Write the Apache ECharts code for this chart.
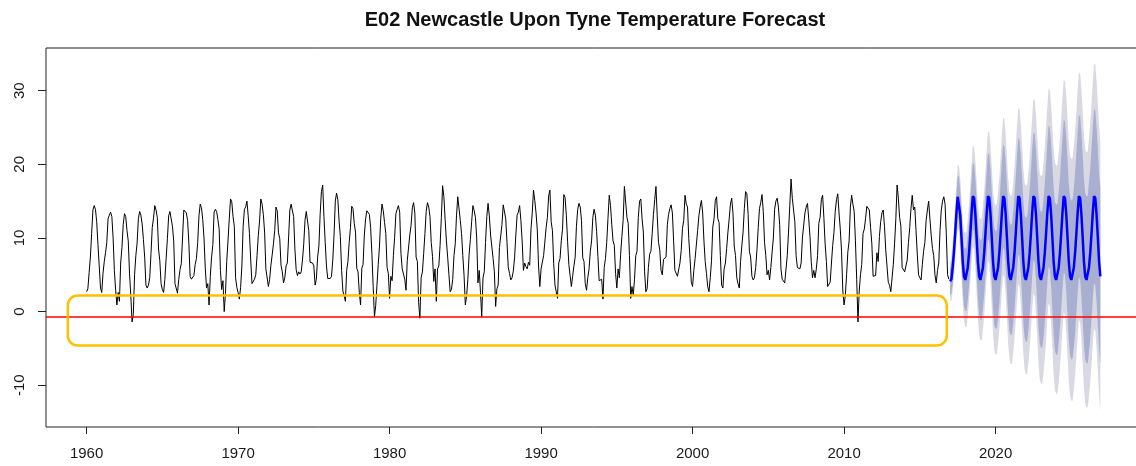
<!DOCTYPE html>
<html>
<head>
<meta charset="utf-8">
<title>E02 Newcastle Upon Tyne Temperature Forecast</title>
<script src="https://cdn.jsdelivr.net/npm/echarts@6.0.0/dist/echarts.min.js"></script>
<style>
  html, body { margin: 0; padding: 0; background: #fff; overflow: hidden; }
  /* a little wider than the window: the plot box runs off the right edge, as in the source */
  #chart { width: 1142px; height: 466px; }
</style>
</head>
<body>
<div id="chart"></div>
<script>
// monthly mean temperature, one row per year (Jan..Dec)
const firstYear = 1960
const tempByYear = [
  [2.7, 3.1, 5.3, 7.4, 10.6, 13.8, 14.4, 13.9, 12.2, 9.1, 6.2, 3.2],   // 1960
  [2.6, 5.2, 6.8, 8.0, 9.4, 12.6, 13.1, 13.5, 12.9, 10.0, 5.6, 2.9],
  [0.9, 2.6, 1.4, 6.6, 8.7, 11.8, 13.3, 12.9, 11.0, 9.6, 5.2, 2.2],
  [-1.4, -0.4, 5.0, 7.6, 9.3, 12.6, 13.6, 13.1, 11.9, 9.8, 7.4, 3.6],
  [3.2, 3.6, 4.6, 7.9, 11.4, 12.7, 14.4, 13.8, 12.8, 8.5, 6.9, 3.8],
  [3.0, 2.6, 4.4, 7.2, 9.9, 13.0, 13.6, 13.5, 11.6, 9.6, 3.8, 3.9],
  [2.5, 4.4, 5.7, 6.5, 10.0, 13.8, 13.9, 13.4, 12.4, 9.3, 4.8, 4.4],
  [4.4, 4.9, 6.4, 7.2, 9.4, 13.0, 14.6, 14.1, 12.5, 10.0, 5.9, 3.2],
  [3.8, 0.9, 4.8, 7.4, 9.1, 13.5, 13.9, 13.6, 12.5, 11.2, 5.6, 3.0],
  [4.2, 0.0, 2.5, 6.8, 9.6, 12.6, 15.3, 14.9, 12.9, 11.6, 4.6, 3.3],
  [2.6, 1.7, 3.3, 6.2, 11.6, 13.9, 14.2, 15.0, 13.0, 10.6, 7.0, 3.8],  // 1970
  [3.9, 4.4, 5.0, 7.6, 10.3, 12.3, 15.3, 14.6, 13.2, 10.8, 5.8, 6.0],
  [3.4, 4.4, 6.3, 7.7, 9.2, 11.0, 14.2, 13.7, 10.7, 9.9, 6.3, 5.4],
  [3.9, 4.6, 6.2, 6.6, 10.0, 13.8, 14.6, 14.6, 12.9, 8.5, 5.7, 4.9],
  [5.4, 5.1, 5.4, 7.0, 9.2, 12.4, 13.6, 13.6, 11.0, 6.7, 6.6, 6.6],
  [6.2, 3.6, 4.4, 7.4, 8.9, 13.2, 16.3, 17.2, 12.9, 9.4, 6.2, 4.5],
  [4.6, 4.5, 4.8, 7.0, 10.4, 15.0, 16.1, 15.2, 12.3, 10.2, 5.6, 2.8],
  [2.2, 1.4, 5.6, 6.8, 9.4, 11.4, 14.3, 14.0, 12.0, 10.8, 5.9, 5.4],
  [2.6, 0.9, 5.9, 6.4, 10.4, 12.6, 13.7, 13.6, 13.2, 11.4, 7.8, 3.4],
  [-0.7, 0.8, 3.6, 6.4, 8.9, 12.7, 14.6, 13.7, 12.1, 10.6, 6.0, 5.2],
  [1.8, 4.8, 4.2, 7.6, 10.1, 13.3, 13.9, 14.4, 13.5, 7.9, 5.8, 5.1],  // 1980
  [4.4, 2.9, 6.9, 7.1, 10.4, 11.7, 14.1, 14.8, 13.4, 7.4, 6.8, 1.2],
  [-0.9, 4.6, 5.4, 7.9, 10.6, 13.6, 14.8, 14.2, 12.9, 9.4, 7.5, 4.1],
  [5.8, 1.4, 5.8, 6.2, 9.0, 12.8, 17.1, 15.6, 12.5, 9.6, 7.4, 5.0],
  [2.7, 3.0, 4.4, 7.6, 9.2, 13.0, 15.6, 15.4, 12.4, 10.6, 7.6, 4.9],
  [0.9, 2.1, 4.4, 7.8, 9.8, 12.2, 14.4, 13.7, 12.8, 10.0, 3.9, 5.6],
  [2.6, -0.7, 4.6, 5.4, 9.4, 12.9, 14.7, 13.0, 10.4, 10.5, 7.2, 5.4],
  [0.7, 3.1, 3.6, 8.7, 8.9, 11.8, 14.5, 14.4, 12.6, 9.4, 6.0, 5.2],
  [4.3, 4.6, 5.5, 7.3, 10.4, 13.1, 13.5, 14.4, 12.4, 9.6, 5.6, 6.6],
  [6.1, 5.8, 6.7, 6.3, 11.2, 13.4, 16.5, 15.1, 13.4, 11.1, 6.2, 3.4],
  [5.8, 6.0, 7.6, 7.6, 11.4, 12.8, 15.7, 16.5, 12.2, 11.0, 6.5, 3.6],  // 1990
  [3.4, 1.8, 6.6, 7.2, 9.6, 11.2, 15.9, 15.5, 13.1, 9.5, 6.4, 4.9],
  [3.4, 4.8, 6.2, 7.4, 11.6, 13.9, 14.7, 14.2, 12.4, 7.3, 6.8, 3.8],
  [2.9, 4.6, 5.8, 8.2, 9.6, 12.8, 13.9, 13.1, 10.9, 7.5, 4.2, 4.4],
  [4.4, 1.7, 6.0, 7.2, 9.4, 12.7, 15.8, 14.4, 11.8, 9.6, 9.0, 5.2],
  [3.2, 5.8, 4.6, 7.8, 10.2, 12.4, 17.0, 16.8, 12.8, 12.0, 7.6, 1.8],
  [3.4, 2.2, 4.4, 7.6, 8.2, 12.8, 15.0, 15.3, 12.6, 10.8, 5.4, 2.7],
  [3.1, 6.0, 7.8, 8.2, 10.6, 13.2, 15.2, 17.0, 13.0, 9.4, 8.4, 5.6],
  [5.0, 7.1, 7.2, 7.4, 11.8, 13.2, 14.0, 14.5, 13.4, 9.6, 5.6, 5.4],
  [4.8, 4.9, 6.6, 8.3, 11.3, 12.4, 15.8, 14.6, 14.2, 9.9, 7.2, 4.0],
  [3.4, 5.6, 7.2, 7.1, 11.0, 13.0, 14.2, 15.1, 13.4, 9.6, 6.8, 5.2],  // 2000
  [3.4, 2.7, 4.6, 6.9, 11.5, 12.6, 15.1, 15.6, 12.6, 12.1, 7.6, 3.6],
  [3.2, 5.8, 6.6, 8.6, 10.8, 12.6, 14.6, 15.4, 13.4, 8.9, 7.6, 4.6],
  [3.8, 3.2, 6.8, 8.9, 10.8, 14.0, 16.3, 16.0, 13.2, 8.2, 7.4, 4.8],
  [4.3, 4.6, 6.0, 8.4, 11.4, 14.0, 14.8, 15.9, 13.6, 9.4, 7.6, 5.0],
  [5.6, 4.3, 6.0, 8.1, 10.0, 13.9, 15.0, 15.4, 14.2, 11.8, 5.8, 4.4],
  [4.4, 3.9, 4.0, 7.6, 10.8, 14.4, 18.0, 15.4, 15.6, 12.2, 7.6, 6.0],
  [6.2, 5.8, 6.6, 10.0, 10.2, 13.4, 14.2, 14.7, 12.6, 10.2, 6.8, 4.6],
  [5.6, 4.6, 5.8, 7.6, 12.0, 12.8, 15.2, 15.8, 12.8, 9.2, 6.8, 3.4],
  [3.5, 4.0, 6.6, 9.0, 10.8, 13.6, 15.2, 16.0, 13.4, 11.2, 8.2, 2.8],
  [0.9, 2.2, 5.0, 8.1, 9.6, 14.2, 15.8, 14.6, 13.6, 9.6, 4.4, -1.4],  // 2010
  [2.8, 5.0, 6.4, 10.6, 11.2, 12.6, 14.3, 14.2, 13.8, 11.4, 9.2, 4.8],
  [4.8, 4.9, 8.0, 6.8, 10.2, 12.2, 13.4, 13.8, 11.6, 8.4, 6.2, 4.0],
  [3.6, 2.7, 2.9, 6.4, 9.2, 12.6, 17.2, 15.4, 12.8, 11.6, 6.0, 5.8],
  [5.4, 5.6, 7.0, 9.4, 11.4, 14.0, 15.8, 13.8, 14.2, 11.0, 7.8, 5.0],
  [4.6, 4.3, 6.4, 8.2, 9.4, 12.4, 13.8, 15.0, 12.6, 10.4, 8.6, 7.6],
  [5.0, 3.9, 5.6, 6.6, 11.0, 13.8, 15.0, 15.6, 14.6, 10.4, 5.0, 4.4]   // 2016
]

// forecast, Jan 2017 .. Dec 2026: point forecast and half-widths of the 80% / 95% bands
const fcStartYear = 2017
const fcMean = [
  [4.1, 4.4, 6.0, 8.0, 10.6, 13.4, 15.6, 15.4, 13.2, 10.1, 6.8, 4.8],
  [4.3, 4.4, 6.0, 8.0, 10.6, 13.4, 15.7, 15.4, 13.2, 10.1, 6.8, 4.8],
  [4.3, 4.4, 6.0, 8.0, 10.6, 13.4, 15.7, 15.4, 13.2, 10.1, 6.8, 4.8],
  [4.3, 4.4, 6.0, 8.0, 10.6, 13.4, 15.7, 15.4, 13.2, 10.1, 6.8, 4.8],
  [4.3, 4.4, 6.0, 8.0, 10.6, 13.4, 15.7, 15.4, 13.2, 10.1, 6.8, 4.8],
  [4.3, 4.4, 6.0, 8.0, 10.6, 13.4, 15.7, 15.4, 13.2, 10.1, 6.8, 4.8],
  [4.3, 4.4, 6.0, 8.0, 10.6, 13.4, 15.7, 15.4, 13.2, 10.1, 6.8, 4.8],
  [4.3, 4.4, 6.0, 8.0, 10.6, 13.4, 15.7, 15.4, 13.2, 10.1, 6.8, 4.8],
  [4.3, 4.4, 6.0, 8.0, 10.6, 13.4, 15.7, 15.4, 13.2, 10.1, 6.8, 4.8],
  [4.3, 4.4, 6.0, 8.0, 10.6, 13.4, 15.7, 15.4, 13.2, 10.1, 6.8, 4.8]
]
const fcHalf95 = [
  [2.6, 3.0, 3.3, 3.6, 3.8, 4.0, 4.2, 4.5, 4.9, 5.3, 5.7, 6.0],
  [6.4, 6.5, 6.6, 6.6, 6.7, 6.7, 6.8, 7.0, 7.3, 7.6, 7.8, 8.0],
  [8.2, 8.3, 8.4, 8.5, 8.6, 8.7, 8.8, 9.0, 9.3, 9.5, 9.8, 10.0],
  [10.1, 10.2, 10.3, 10.4, 10.5, 10.6, 10.7, 10.8, 10.9, 11.0, 11.2, 11.3],
  [11.4, 11.5, 11.6, 11.7, 11.8, 11.9, 12.0, 12.1, 12.3, 12.5, 12.6, 12.7],
  [12.8, 12.9, 13.0, 13.0, 13.1, 13.1, 13.2, 13.3, 13.5, 13.7, 13.9, 14.0],
  [14.1, 14.2, 14.3, 14.4, 14.5, 14.5, 14.6, 14.7, 14.9, 15.1, 15.3, 15.4],
  [15.5, 15.5, 15.6, 15.6, 15.7, 15.7, 15.8, 15.9, 16.0, 16.1, 16.2, 16.3],
  [16.4, 16.5, 16.5, 16.6, 16.6, 16.7, 16.8, 16.9, 17.0, 17.1, 17.2, 17.3],
  [17.3, 17.4, 17.5, 17.6, 17.7, 17.8, 18.0, 18.1, 18.2, 18.2, 18.3, 18.3]
]
const fcHalf80 = [
  [1.8, 2.0, 2.2, 2.4, 2.5, 2.7, 2.8, 3.0, 3.2, 3.5, 3.8, 4.0],
  [4.2, 4.3, 4.4, 4.4, 4.4, 4.4, 4.5, 4.6, 4.8, 5.0, 5.1, 5.3],
  [5.4, 5.5, 5.5, 5.6, 5.7, 5.7, 5.8, 5.9, 6.1, 6.2, 6.4, 6.6],
  [6.6, 6.7, 6.8, 6.8, 6.9, 7.0, 7.0, 7.1, 7.1, 7.2, 7.3, 7.4],
  [7.5, 7.5, 7.6, 7.7, 7.7, 7.8, 7.9, 7.9, 8.1, 8.2, 8.3, 8.3],
  [8.4, 8.5, 8.5, 8.5, 8.6, 8.6, 8.7, 8.7, 8.8, 9.0, 9.1, 9.2],
  [9.2, 9.3, 9.4, 9.4, 9.5, 9.5, 9.6, 9.6, 9.8, 9.9, 10.0, 10.1],
  [10.2, 10.2, 10.2, 10.2, 10.3, 10.3, 10.4, 10.4, 10.5, 10.6, 10.6, 10.7],
  [10.8, 10.8, 10.8, 10.9, 10.9, 10.9, 11.0, 11.1, 11.1, 11.2, 11.3, 11.3],
  [11.3, 11.4, 11.5, 11.5, 11.6, 11.7, 11.8, 11.9, 11.9, 11.9, 12.0, 12.0]
]

const xTicks = [1960, 1970, 1980, 1990, 2000, 2010, 2020]
const yTicks = [-10, 0, 10, 20, 30]
const refLine = -0.7                 // red horizontal line
const boxYears = [1958.76, 2016.78]  // orange highlight box, data units
const boxTemps = [2.2, -4.6]

const font = "'Liberation Sans', Arial, sans-serif"

// rows -> [time, value] pairs, time = year + month/12 like an R ts
const toPoints = (rows, startYear) => {
  const out = []
  rows.forEach((row, y) => row.forEach((v, m) => out.push([startYear + y + m / 12, v])))
  return out
}
const hist = toPoints(tempByYear, firstYear)
const fc = toPoints(fcMean, fcStartYear)
const h95 = fcHalf95.flat()
const h80 = fcHalf80.flat()

const band = (half, color) => ({
  type: 'custom',
  silent: true,
  z: 1,
  data: [fc[0]],
  renderItem: (params, api) => {
    const pts = []
    for (let i = 0; i < fc.length; i++) pts.push(api.coord([fc[i][0], fc[i][1] + half[i]]))
    for (let i = fc.length - 1; i >= 0; i--) pts.push(api.coord([fc[i][0], fc[i][1] - half[i]]))
    return { type: 'polygon', shape: { points: pts }, style: { fill: color } }
  }
})

const chart = echarts.init(document.getElementById('chart'))

chart.setOption({
  animation: false,
  title: {
    text: 'E02 Newcastle Upon Tyne Temperature Forecast',
    left: 590,
    textAlign: 'center',
    top: 5,
    textStyle: { fontFamily: font, fontSize: 20, fontWeight: 'bold', color: '#111' }
  },
  grid: {
    left: 46, top: 48, right: 1, bottom: 39,
    show: true, borderColor: '#222', borderWidth: 1, backgroundColor: 'transparent'
  },
  xAxis: {
    type: 'value',
    min: 1957.32, max: 2029.6,
    axisLine: { show: false, onZero: false },
    splitLine: { show: false },
    axisTick: { show: true, customValues: xTicks, length: 7, lineStyle: { color: '#222' } },
    axisLabel: {
      customValues: xTicks, margin: 19,
      formatter: v => String(v),
      fontFamily: font, fontSize: 15, color: '#1a1a1a'
    }
  },
  yAxis: {
    type: 'value',
    min: -15.67, max: 35.8,
    axisLine: { show: false, onZero: false },
    splitLine: { show: false },
    axisTick: { show: true, customValues: yTicks, length: 8, lineStyle: { color: '#222' } },
    axisLabel: {
      customValues: yTicks, rotate: 90, margin: 19,
      formatter: v => String(v),
      fontFamily: font, fontSize: 15, color: '#1a1a1a'
    }
  },
  series: [
    band(h95, '#d9d9e3'),
    band(h80, '#a9afd0'),
    {
      type: 'line', data: hist, showSymbol: false, silent: true, z: 3,
      lineStyle: { color: '#000', width: 1 }
    },
    {
      type: 'line', data: fc, showSymbol: false, silent: true, z: 4,
      lineStyle: { color: '#0000ff', width: 2.5 }
    },
    {
      type: 'line', data: [], z: 5,
      markLine: {
        silent: true, symbol: 'none', label: { show: false },
        lineStyle: { color: '#ff0000', width: 1.5, type: 'solid' },
        data: [{ yAxis: refLine }]
      }
    }
  ]
})

const p1 = chart.convertToPixel({ xAxisIndex: 0, yAxisIndex: 0 }, [boxYears[0], boxTemps[0]])
const p2 = chart.convertToPixel({ xAxisIndex: 0, yAxisIndex: 0 }, [boxYears[1], boxTemps[1]])
chart.setOption({
  graphic: [{
    type: 'rect', z: 100, silent: true,
    shape: { x: p1[0], y: p1[1], width: p2[0] - p1[0], height: p2[1] - p1[1], r: 10 },
    style: { fill: 'none', stroke: '#ffc000', lineWidth: 2.5 }
  }]
})
</script>
</body>
</html>
